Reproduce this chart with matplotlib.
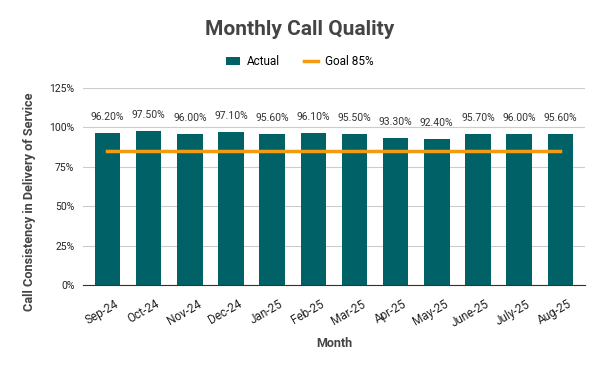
import matplotlib
matplotlib.use("Agg")
import matplotlib.pyplot as plt
import matplotlib.transforms as mtransforms
from matplotlib.ticker import FuncFormatter

months = ["Sep-24", "Oct-24", "Nov-24", "Dec-24", "Jan-25", "Feb-25",
          "Mar-25", "Apr-25", "May-25", "June-25", "July-25", "Aug-25"]
actual = [96.2, 97.5, 96.0, 97.1, 95.6, 96.1, 95.5, 93.3, 92.4, 95.7, 96.0, 95.6]
goal = [85] * len(months)

plt.rcParams["font.family"] = ["Roboto", "DejaVu Sans"]

fig = plt.figure(figsize=(6, 3.71), dpi=100)
ax = fig.add_axes([0.138, 0.232, 0.837, 0.531])

x = list(range(len(months)))
bars = ax.bar(x, actual, width=0.62, color="#006266", label="Actual", zorder=2)
line, = ax.plot(x, goal, color="#f39c12", linewidth=2.5, label="Goal 85%", zorder=3)

for xi, v in zip(x, actual):
    ax.text(xi, v + 7, f"{v:.2f}%", ha="center", va="bottom",
            fontsize=7.5, color="#333333")

ax.set_xlim(-0.6, len(months) - 0.4)
ax.set_ylim(0, 125)
ax.set_yticks([0, 25, 50, 75, 100, 125])
ax.yaxis.set_major_formatter(FuncFormatter(lambda v, p: f"{int(v)}%"))
ax.grid(axis="y", color="#cccccc", linewidth=0.8, zorder=0)
ax.set_xticks(x)
ax.set_xticklabels([])

# rotated month labels, shifted a bit right and down like the original
offset = mtransforms.ScaledTranslation(5 / 72, -9 / 72, fig.dpi_scale_trans)
for xi, m in zip(x, months):
    ax.text(xi, 0, m, rotation=30, ha="right", va="top", rotation_mode="anchor",
            fontsize=8.5, color="#222222",
            transform=ax.get_xaxis_transform() + offset)

ax.tick_params(axis="y", labelsize=7.5, colors="#222222", length=0, pad=6)
ax.tick_params(axis="x", length=0)
for s in ["top", "right", "left"]:
    ax.spines[s].set_visible(False)
ax.spines["bottom"].set_color("#333333")
ax.spines["bottom"].set_zorder(4)

ax.set_xlabel("Month", fontsize=9, fontweight="bold", color="#444444", labelpad=34)
ax.set_ylabel("Call Consistency in Delivery of Service", fontsize=9.2,
              fontweight="bold", color="#444444")
ax.yaxis.set_label_coords(-0.093, 0.42)

fig.text(0.5, 0.92, "Monthly Call Quality", ha="center", va="center",
         fontsize=15, fontweight="bold", color="#444444")
fig.legend([bars, line], ["Actual", "Goal 85%"], loc="center",
           bbox_to_anchor=(0.5, 0.833), ncol=2, frameon=False,
           fontsize=8.5, handlelength=1.2, columnspacing=2.0, handletextpad=0.6)

fig.savefig("out.png", dpi=100)
